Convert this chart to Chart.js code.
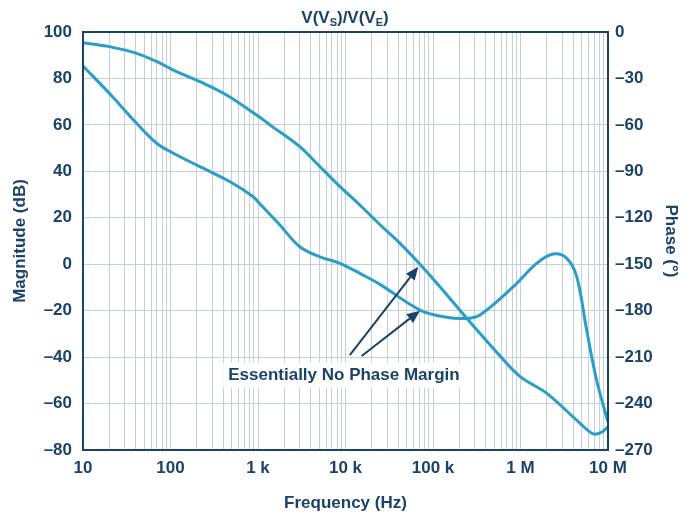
<!DOCTYPE html>
<html>
<head>
<meta charset="utf-8">
<script src="https://cdn.jsdelivr.net/npm/chart.js@4.4.0/dist/chart.umd.min.js"></script>
<style>
  html, body { margin: 0; padding: 0; background: #fff; }
  #wrap { width: 692px; height: 516px; }
</style>
</head>
<body>
<div id="wrap"><canvas id="bode" width="692" height="516"></canvas></div>
<script>
// Magnitude curve (Hz, dB)
const magFreq = [10, 20, 41, 70, 108, 217, 437, 1000, 1370, 3000, 5100, 8650, 14600, 24800, 42000, 71000, 120000, 243000, 600000, 1000000, 2000000, 4800000, 6800000, 8500000, 10000000];
const magDb = [95.4, 93.7, 90.8, 87.2, 83.6, 78.6, 72.9, 63.8, 60, 50.6, 42, 33.4, 25.5, 17, 9, 0, -9.7, -23.3, -40, -48.5, -55.6, -68.5, -73.1, -72.3, -70];

// Phase curve (Hz, degrees)
const phaseFreq = [10, 20, 41, 70, 108, 217, 480, 883, 1050, 1780, 3000, 5100, 8650, 14600, 24800, 71000, 143000, 243000, 344000, 828000, 1530000, 2370000, 3380000, 4390000, 5700000, 7400000, 10000000];
const phaseDeg = [-22, -39.6, -59, -72, -78.3, -87, -96.7, -106.4, -111, -124.7, -138.7, -145.2, -149.4, -155.9, -163, -179.6, -184.3, -185, -182.8, -164.5, -149.4, -143.4, -146.2, -158, -192.5, -224.8, -252];

// Axis ticks
const decades = [10, 100, 1000, 10000, 100000, 1000000];
const decadeLabels = ['10', '100', '1 k', '10 k', '100 k', '1 M', '10 M'];
const magTicks = [-80, -60, -40, -20, 0, 20, 40, 60, 80, 100];
const phaseTicks = [-270, -240, -210, -180, -150, -120, -90, -60, -30, 0];

// Annotation
const noteText = 'Essentially No Phase Margin';
const arrowFrom = [[11200, -39.1], [15300, -39.5]];
const arrowTo = [[67900, -1.1], [71000, -20.0]];
const noteAt = [9600, -47.5];

const NAVY = '#1b4268';
const CURVE = '#2a9dc8';
const GRID = '#c4cfda';
const FONT = '"Liberation Sans", Arial, sans-serif';

// minor grid: 1..9 per decade
const freqTicks = [];
decades.forEach(d => { for (let k = 1; k < 10; k++) freqTicks.push(d * k); });
freqTicks.push(10000000);

function tickLabel(v) {
    const i = Math.round(Math.log10(v)) - 1;
    if (Math.abs(v - Math.pow(10, i + 1)) < 1e-6 * v) return decadeLabels[i];
    return '';
}

function drawArrow(ctx, x1, y1, x2, y2) {
    const ang = Math.atan2(y2 - y1, x2 - x1);
    const hl = 13, hw = 5.5;
    const bx = x2 - hl * Math.cos(ang), by = y2 - hl * Math.sin(ang);
    ctx.beginPath();
    ctx.moveTo(x1, y1);
    ctx.lineTo(bx, by);
    ctx.stroke();
    ctx.beginPath();
    ctx.moveTo(x2, y2);
    ctx.lineTo(bx + hw * Math.sin(ang), by - hw * Math.cos(ang));
    ctx.lineTo(bx - hw * Math.sin(ang), by + hw * Math.cos(ang));
    ctx.closePath();
    ctx.fill();
}

const decorations = {
    id: 'decorations',
    afterDatasetsDraw(chart) {
        const {ctx, chartArea: a, scales} = chart;
        const x = scales.x, y = scales.y;
        ctx.save();
        // frame
        ctx.strokeStyle = NAVY;
        ctx.lineWidth = 2;
        ctx.strokeRect(a.left, a.top, a.right - a.left, a.bottom - a.top);

        // arrows
        ctx.fillStyle = NAVY;
        ctx.lineWidth = 2;
        for (let i = 0; i < arrowFrom.length; i++) {
            drawArrow(ctx,
                x.getPixelForValue(arrowFrom[i][0]), y.getPixelForValue(arrowFrom[i][1]),
                x.getPixelForValue(arrowTo[i][0]), y.getPixelForValue(arrowTo[i][1]));
        }

        // label with white box
        ctx.font = 'bold 17px ' + FONT;
        const w = ctx.measureText(noteText).width;
        const cx = x.getPixelForValue(noteAt[0]);
        const cy = y.getPixelForValue(noteAt[1]);
        ctx.fillStyle = '#fff';
        ctx.fillRect(cx - w / 2 - 5, cy - 12, w + 10, 25);
        ctx.fillStyle = NAVY;
        ctx.textAlign = 'center';
        ctx.textBaseline = 'middle';
        ctx.fillText(noteText, cx, cy + 1);
        ctx.restore();
    },
    afterDraw(chart) {
        // title V(V_S)/V(V_E)
        const {ctx} = chart;
        const parts = [['V(V', 0], ['S', 1], [')/V(V', 0], ['E', 1], [')', 0]];
        const big = 'bold 17px ' + FONT, small = 'bold 11px ' + FONT;
        ctx.save();
        let total = 0;
        parts.forEach(p => { ctx.font = p[1] ? small : big; total += ctx.measureText(p[0]).width; });
        let px = 345 - total / 2;
        ctx.fillStyle = NAVY;
        ctx.textBaseline = 'alphabetic';
        ctx.textAlign = 'left';
        parts.forEach(p => {
            ctx.font = p[1] ? small : big;
            ctx.fillText(p[0], px, p[1] ? 26 : 23);
            px += ctx.measureText(p[0]).width;
        });
        ctx.restore();
    }
};

const tickFont = { family: FONT, size: 17, weight: 'bold' };

new Chart(document.getElementById('bode'), {
    type: 'line',
    data: {
        datasets: [
            {
                label: 'Magnitude',
                data: magFreq.map((f, i) => ({ x: f, y: magDb[i] })),
                yAxisID: 'y',
                borderColor: CURVE,
                borderWidth: 3,
                pointRadius: 0,
                tension: 0.35,
                fill: false
            },
            {
                label: 'Phase',
                data: phaseFreq.map((f, i) => ({ x: f, y: phaseDeg[i] })),
                yAxisID: 'y2',
                borderColor: CURVE,
                borderWidth: 3,
                pointRadius: 0,
                tension: 0.35,
                fill: false
            }
        ]
    },
    options: {
        responsive: false,
        animation: false,
        devicePixelRatio: 1,
        layout: { padding: { top: 32, left: 0, right: 0, bottom: 0 } },
        plugins: {
            legend: { display: false },
            tooltip: { enabled: false },
            title: { display: false }
        },
        scales: {
            x: {
                type: 'logarithmic',
                min: 10,
                max: 10000000,
                afterBuildTicks: s => { s.ticks = freqTicks.map(v => ({ value: v })); },
                afterFit: s => { s.height = 66; },
                grid: { color: GRID, lineWidth: 1, drawTicks: false },
                border: { display: false },
                ticks: {
                    autoSkip: false,
                    maxRotation: 0,
                    padding: 8,
                    color: NAVY,
                    font: tickFont,
                    callback: v => tickLabel(v)
                },
                title: {
                    display: true,
                    text: 'Frequency (Hz)',
                    color: NAVY,
                    font: tickFont,
                    padding: { top: 0, bottom: 2 }
                }
            },
            y: {
                position: 'left',
                min: -80,
                max: 100,
                afterBuildTicks: s => { s.ticks = magTicks.map(v => ({ value: v })); },
                afterFit: s => { s.width = 83; },
                grid: { color: GRID, lineWidth: 1, drawTicks: false },
                border: { display: false },
                ticks: {
                    padding: 11,
                    color: NAVY,
                    font: tickFont,
                    callback: v => (v < 0 ? '\u2013' + Math.abs(v) : String(v))
                },
                title: {
                    display: true,
                    text: 'Magnitude (dB)',
                    color: NAVY,
                    font: tickFont,
                    padding: { top: 10, bottom: 0 }
                }
            },
            y2: {
                position: 'right',
                min: -270,
                max: 0,
                afterBuildTicks: s => { s.ticks = phaseTicks.map(v => ({ value: v })); },
                afterFit: s => { s.width = 84; },
                grid: { display: false, drawTicks: false },
                border: { display: false },
                ticks: {
                    padding: 7,
                    color: NAVY,
                    font: tickFont,
                    callback: v => (v < 0 ? '\u2013' + Math.abs(v) : String(v))
                },
                title: {
                    display: true,
                    text: 'Phase (\u00B0)',
                    color: NAVY,
                    font: tickFont,
                    padding: { top: 11, bottom: 0 }
                }
            }
        }
    },
    plugins: [decorations]
});
</script>
</body>
</html>
